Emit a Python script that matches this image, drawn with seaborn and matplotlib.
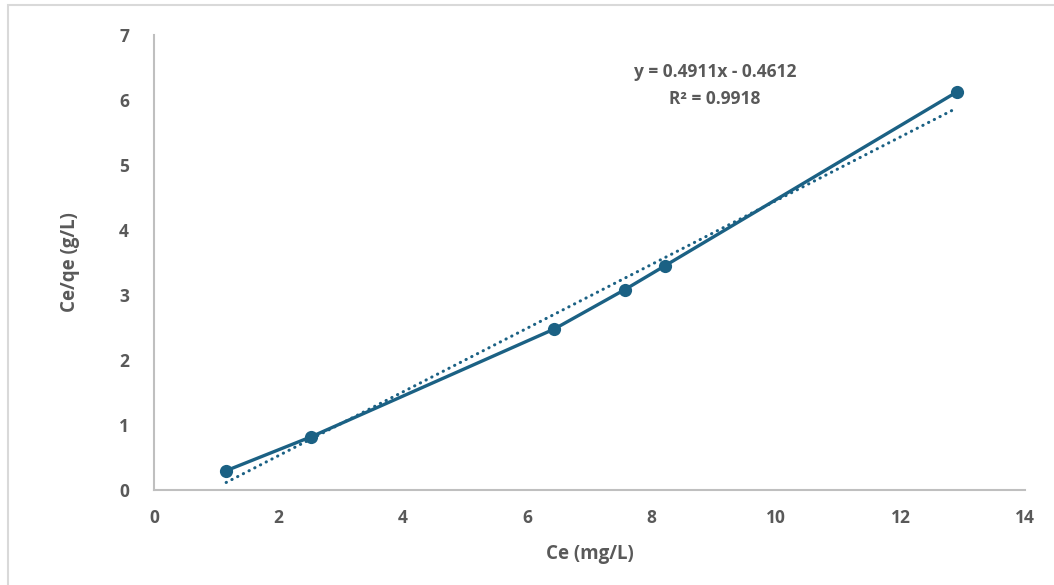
import numpy as np
import pandas as pd
import matplotlib
matplotlib.use("Agg")
import matplotlib.pyplot as plt
import seaborn as sns

# data
ce = [1.16, 2.52, 6.43, 7.57, 8.22, 12.90]
ce_qe = [0.29, 0.81, 2.47, 3.08, 3.45, 6.12]
slope = 0.4911
intercept = -0.4612
r2 = 0.9918
xticks = [0, 2, 4, 6, 8, 10, 12, 14]
yticks = [0, 1, 2, 3, 4, 5, 6, 7]

df = pd.DataFrame({'Ce': ce, 'Ce_qe': ce_qe})
trend = pd.DataFrame({'Ce': [min(ce), max(ce)]})
trend['fit'] = slope*trend.Ce + intercept

sns.set_theme(style="white")
plt.rcParams['font.family'] = ['Open Sans', 'DejaVu Sans']
plt.rcParams['font.weight'] = 'bold'

col = '#1b6184'
grey = '#595959'

fig = plt.figure(figsize=(10.54, 5.85), dpi=100)
ax = fig.add_axes([0.1461, 0.1632, 0.9725-0.1461, 0.9402-0.1632])

sns.lineplot(data=trend, x='Ce', y='fit', ax=ax, color=col, lw=2.2,
             linestyle=(0, (0.1, 2.0)), dash_capstyle='round')
sns.lineplot(data=df, x='Ce', y='Ce_qe', ax=ax, color=col, lw=2.4,
             marker='o', markersize=9.5, markeredgewidth=0)

ax.set_xlim(0, 14)
ax.set_ylim(0, 7)
ax.set_xticks(xticks)
ax.set_yticks(yticks)
ax.tick_params(axis='both', length=0, labelsize=12.5, labelcolor=grey)
ax.tick_params(axis='y', pad=18)
ax.tick_params(axis='x', pad=14)
for lab in ax.get_xticklabels() + ax.get_yticklabels():
    lab.set_fontweight('bold')
for s in ['top', 'right']:
    ax.spines[s].set_visible(False)
for s in ['left', 'bottom']:
    ax.spines[s].set_color('#bfbfbf')
    ax.spines[s].set_linewidth(1.5)

ax.set_xlabel('Ce (mg/L)', fontsize=13.5, color=grey, fontweight='bold', labelpad=12)
ax.set_ylabel('Ce/qe (g/L)', fontsize=13.5, color=grey, fontweight='bold', labelpad=28)

ax.text(9.02, 6.43, f'y = {slope}x - {abs(intercept)}', ha='center', va='center',
        fontsize=12.5, color=grey, fontweight='bold')
ax.text(9.02, 6.02, f'R² = {r2}', ha='center', va='center',
        fontsize=12.5, color=grey, fontweight='bold')

# outer chart border (cropped on right and bottom in the original)
fig.patches.append(plt.Rectangle((0.0076, -0.05), 1.1, 0.9915+0.05, transform=fig.transFigure,
                                 fill=False, edgecolor='#d9d9d9', lw=1.5))

fig.savefig('out.png', dpi=100)
